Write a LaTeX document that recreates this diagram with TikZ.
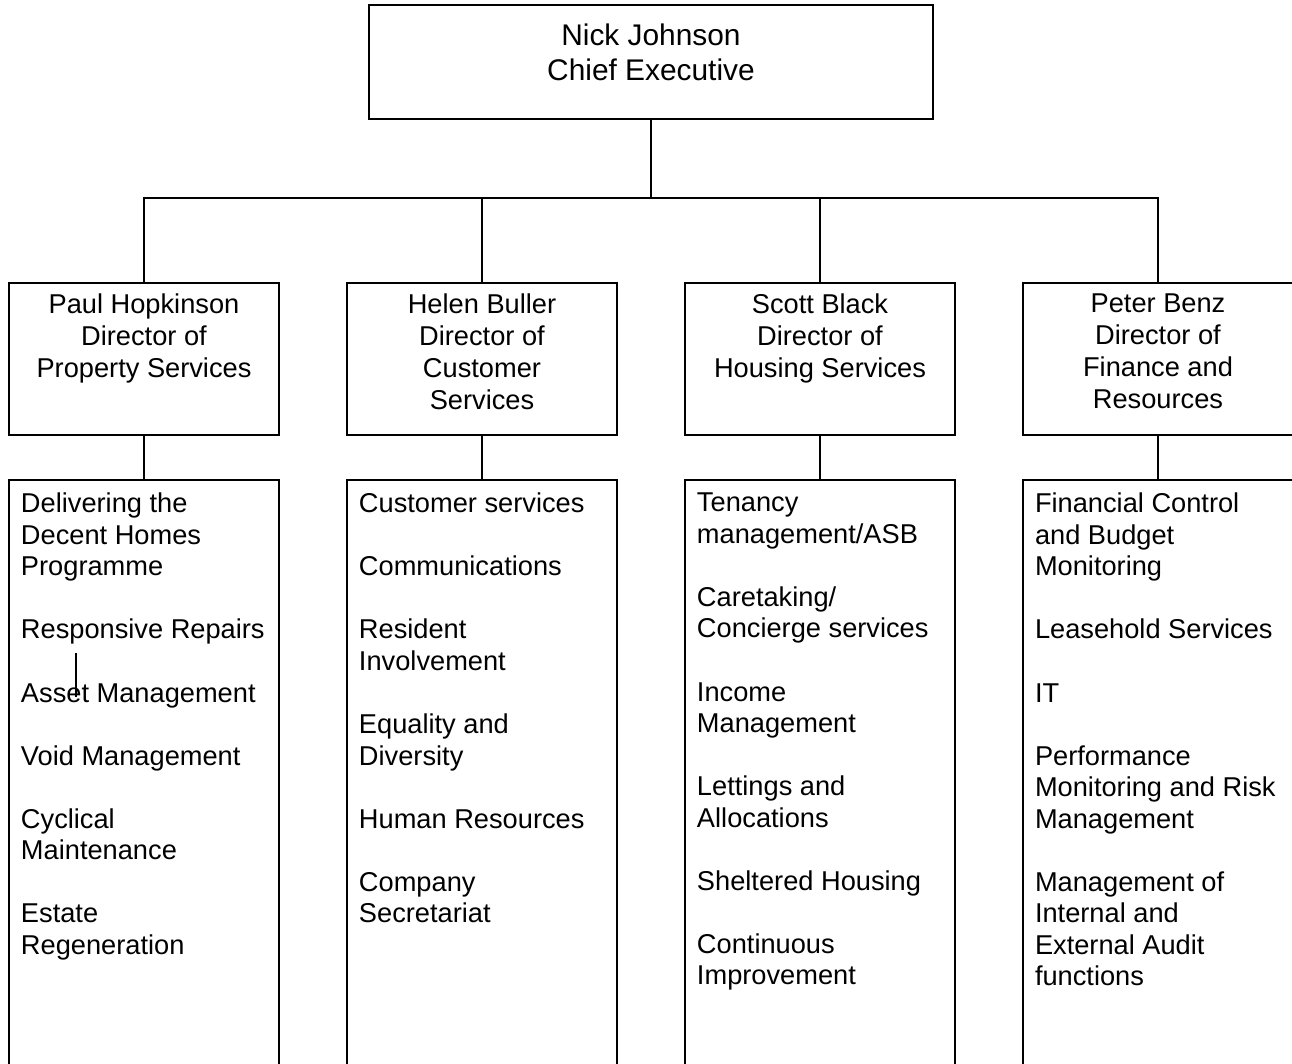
\documentclass[tikz,border=0pt]{standalone}
\usepackage{fontspec}
\setmainfont{Liberation Sans}
\usetikzlibrary{positioning}
\newcommand{\itemgap}{\\[17.95pt]}

\begin{document}
\begin{tikzpicture}[
        x=0.02cm, y=-0.02cm,
        line width=1.1pt,
        box/.style = {
            draw, inner sep=0pt, outer sep=0pt,
            minimum width=5.4cm},
        chief/.style = {box, minimum width=11.28cm, minimum height=2.28cm},
        head/.style = {box, minimum height=3.04cm},
        duties/.style = {box, minimum height=12cm},
        chieftxt/.style = {align=center, inner sep=0pt,
            font=\fontsize{17}{19.9}\selectfont},
        headtxt/.style = {align=center, inner sep=0pt,
            font=\fontsize{15.5}{18.2}\selectfont},
        dutytxt/.style = {align=left, inner sep=0pt,
            font=\fontsize{15.5}{17.95}\selectfont},
]
        \path[use as bounding box, clip] (0,0) rectangle (1292,1063);
        % chief executive
        \node[chief] (ceo) at (651,62) {};
        \node[chieftxt] (ceo-t) [below=0.36cm of ceo.north] {Nick Johnson\\Chief Executive};
        % directors
        \node[head] (dps) at (144,359) {};
        \node[head] (dcs) at (482,359) {};
        \node[head] (dhs) at (820,359) {};
        \node[head] (dfr) at (1158,359) {};
        \node[headtxt] (dps-t) [below=0.2cm of dps.north] {Paul Hopkinson\\Director of\\Property Services};
        \node[headtxt] (dcs-t) [below=0.2cm of dcs.north] {Helen Buller\\Director of\\Customer\\Services};
        \node[headtxt] (dhs-t) [below=0.2cm of dhs.north] {Scott Black\\Director of\\Housing Services};
        \node[headtxt] (dfr-t) [below=0.2cm of dfr.north] {Peter Benz\\Director of\\Finance and\\Resources};
        % duties
        \node[duties] (lps) at (144,780) {};
        \node[duties] (lcs) at (482,780) {};
        \node[duties] (lhs) at (820,780) {};
        \node[duties] (lfr) at (1158,780) {};
        \node[dutytxt] (lps-t) [below right=0.24cm and 0.22cm of lps.north west] {Delivering the\\Decent Homes\\Programme\itemgap
            Responsive Repairs\itemgap Asset Management\itemgap Void Management\itemgap
            Cyclical\\Maintenance\itemgap Estate\\Regeneration};
        \node[dutytxt] (lcs-t) [below right=0.24cm and 0.22cm of lcs.north west] {Customer services\itemgap
            Communications\itemgap Resident\\Involvement\itemgap Equality and\\Diversity\itemgap
            Human Resources\itemgap Company\\Secretariat};
        \node[dutytxt] (lhs-t) [below right=0.24cm and 0.22cm of lhs.north west] {Tenancy\\management/ASB\itemgap
            Caretaking/\\Concierge services\itemgap Income\\Management\itemgap
            Lettings and\\Allocations\itemgap Sheltered Housing\itemgap Continuous\\Improvement};
        \node[dutytxt] (lfr-t) [below right=0.24cm and 0.22cm of lfr.north west] {Financial Control\\and Budget\\Monitoring\itemgap
            Leasehold Services\itemgap IT\itemgap Performance\\Monitoring and Risk\\Management\itemgap
            Management of\\Internal and\\External Audit\\functions};
        % connectors
        \coordinate (bus) at (651,198);
        \draw (ceo.south) -- (bus);
        \draw (dps.north) |- (bus) -| (dfr.north);
        \draw (dcs.north) -- (dcs.north |- bus);
        \draw (dhs.north) -- (dhs.north |- bus);
        \draw (dps) -- (lps);
        \draw (dcs) -- (lcs);
        \draw (dhs) -- (lhs);
        \draw (dfr) -- (lfr);
        % stray mark
        \draw (76,653) -- (76,697);
\end{tikzpicture}
\end{document}
